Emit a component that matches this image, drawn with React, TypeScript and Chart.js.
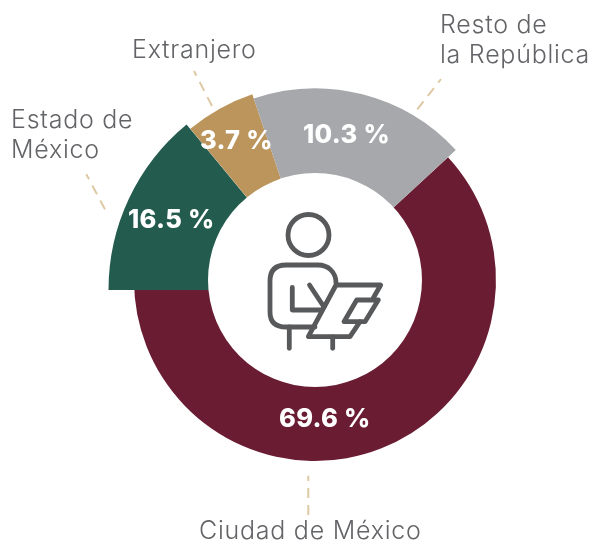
import React, { useEffect, useRef } from "react";
import { Chart, registerables } from "chart.js";

Chart.register(...registerables);

// Clockwise from the grey/maroon seam.
const categories = ["Ciudad de México", "Estado de México", "Extranjero", "Resto de la República"];
// Percentages printed on the slices.
const printedPercent = [69.6, 16.5, 3.7, 10.3];
// The reference is an infographic whose arcs are not proportional to the printed
// figures, so slice sizes are read separately from the picture (share of the circle).
const drawnArcShare = [61.86, 14.03, 5.79, 18.32];
const sliceColors = ["#691C32", "#235B4E", "#BC955C", "#A7A8AB"];
const sliceOuterRadius = [181, 214.5, 196, 191.6];

const CX = 315;
const CY = 280;
const HOLE = 107;
const LABEL_FONT = '300 25px Inter, "Noto Sans", sans-serif';
const VALUE_FONT = '800 25.5px Inter, "Noto Sans", sans-serif';

const categoryLabels = [
  { lines: ["Ciudad de México"], x: 199, y: 539 },
  { lines: ["Estado de", "México"], x: 11, y: 128 },
  { lines: ["Extranjero"], x: 132, y: 58 },
  { lines: ["Resto de", "la República"], x: 440, y: 33 },
];
const valueLabelAnchors = [
  { x: 279, y: 427 },
  { x: 128, y: 228 },
  { x: 200, y: 149 },
  { x: 303, y: 143 },
];
const leaderLines = [
  [308.3, 515, 308.3, 475.7],
  [105, 209.3, 86.3, 174.3],
  [212, 106, 194, 71],
  [417.3, 109.3, 441, 79],
];

function stroke(ctx: CanvasRenderingContext2D, pts: number[][], close = false) {
  ctx.beginPath();
  pts.forEach((p, i) => (i ? ctx.lineTo(p[0], p[1]) : ctx.moveTo(p[0], p[1])));
  if (close) ctx.closePath();
  ctx.stroke();
}

function drawIcon(ctx: CanvasRenderingContext2D) {
  ctx.save();
  ctx.strokeStyle = "#58595B";
  ctx.lineWidth = 4.8;
  ctx.lineCap = "round";
  ctx.lineJoin = "round";
  ctx.beginPath();
  ctx.arc(308.5, 235, 20.5, 0, Math.PI * 2);
  ctx.stroke();
  // torso
  ctx.beginPath();
  ctx.moveTo(336, 283);
  ctx.bezierCurveTo(336, 272, 328, 265, 318, 265);
  ctx.lineTo(286, 265);
  ctx.quadraticCurveTo(270, 265, 270, 281);
  ctx.lineTo(270, 312);
  ctx.quadraticCurveTo(270, 327, 286, 327);
  ctx.lineTo(315, 327);
  ctx.stroke();
  // arm
  stroke(ctx, [[292.3, 287.5], [292.3, 310], [322, 310]]);
  stroke(ctx, [[309.5, 285], [324, 307]]);
  // book
  stroke(ctx, [[373.3, 298], [380.7, 285], [336, 285], [308.3, 336.7], [350, 336.7], [360, 321.7]]);
  stroke(ctx, [[356.7, 300], [378.3, 300], [365, 321.7], [344, 321.7]], true);
  // legs
  stroke(ctx, [[289.3, 327], [289.3, 348.3]]);
  stroke(ctx, [[332.7, 337], [332.7, 348.3]]);
  ctx.restore();
}

const infographicPlugin = {
  id: "infographic",
  afterDatasetsUpdate(chart: any) {
    chart.getDatasetMeta(0).data.forEach((arc: any, i: number) => {
      arc.x = i === 1 ? CX + 8 : CX;
      arc.y = i === 1 ? CY + 10 : CY;
      arc.outerRadius = sliceOuterRadius[i];
    });
  },
  afterDatasetsDraw(chart: any) {
    const ctx: CanvasRenderingContext2D = chart.ctx;
    ctx.save();
    ctx.fillStyle = "#FFFFFF";
    ctx.beginPath();
    ctx.arc(CX, CY, HOLE, 0, Math.PI * 2);
    ctx.fill();
    drawIcon(ctx);

    ctx.strokeStyle = "#DDC9A3";
    ctx.lineWidth = 2;
    ctx.setLineDash([10, 7]);
    leaderLines.forEach((l) => stroke(ctx, [[l[0], l[1]], [l[2], l[3]]]));
    ctx.setLineDash([]);

    ctx.textAlign = "left";
    ctx.textBaseline = "alphabetic";
    ctx.font = LABEL_FONT;
    ctx.fillStyle = "#636467";
    (ctx as any).letterSpacing = "0.75px";
    categoryLabels.forEach((c) =>
      c.lines.forEach((t, j) => ctx.fillText(t, c.x, c.y + j * 30))
    );
    ctx.font = VALUE_FONT;
    ctx.fillStyle = "#FFFFFF";
    (ctx as any).letterSpacing = "0.3px";
    valueLabelAnchors.forEach((a, i) =>
      ctx.fillText(`${printedPercent[i].toFixed(1)} %`, a.x, a.y)
    );
    ctx.restore();
  },
};

export default function App() {
  const ref = useRef<HTMLCanvasElement>(null);
  useEffect(() => {
    const chart = new Chart(ref.current!, {
      type: "doughnut",
      data: {
        labels: categories,
        datasets: [
          {
            data: drawnArcShare,
            backgroundColor: sliceColors,
            borderWidth: 0,
          },
        ],
      },
      options: {
        animation: false,
        responsive: false,
        rotation: 47.3,
        cutout: 90,
        layout: { padding: 0 },
        plugins: { legend: { display: false }, tooltip: { enabled: false } },
      },
      plugins: [infographicPlugin],
    });
    return () => chart.destroy();
  }, []);
  return (
    <div style={{ position: "absolute", left: 0, top: 0, width: 595, height: 540 }}>
      <canvas ref={ref} width={595} height={540} style={{ display: "block" }} />
    </div>
  );
}
